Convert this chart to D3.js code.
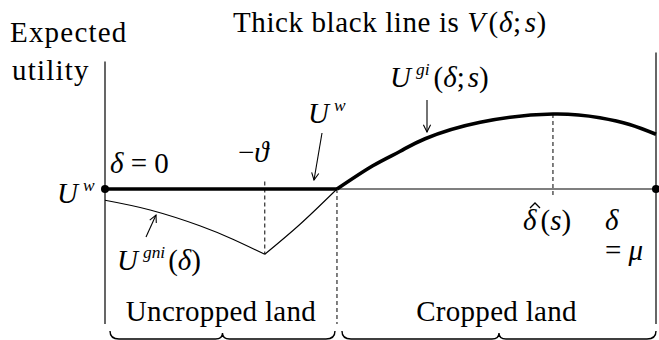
<!DOCTYPE html>
<html>
<head>
<meta charset="utf-8">
<script src="https://cdn.jsdelivr.net/npm/d3@7"></script>
<style>
  body { margin: 0; background: #fff; }
  svg text { font-family: "Liberation Serif", "Times New Roman", "DejaVu Serif", serif; }
</style>
</head>
<body>
<svg id="chart" width="659" height="340"></svg>
<script>
    // values (delta in units of mu, utility relative to U^w)
    const deltaGni = [0, 0.082, 0.172, 0.232, 0.29];
    const uGni     = [-0.15, -0.28, -0.49, -0.67, -0.87];
    const deltaRise = [0.29, 0.354, 0.421];
    const uRise     = [-0.87, -0.47, 0];
    const deltaGi = [0.421, 0.486, 0.535, 0.581, 0.681, 0.813, 0.898, 0.952, 1.0];
    const uGi     = [0, 0.31, 0.5, 0.67, 0.89, 1.0, 0.95, 0.86, 0.73];
    const uW = 0;
    const theta = 0.29, crossover = 0.421, deltaHat = 0.813, mu = 1;
    const axisTop = 1.7, axisBottom = -1.8;

    const svg = d3.select("#chart");
    const x = d3.scaleLinear().domain([0, mu]).range([105, 656]);
    const y = d3.scaleLinear().domain([0, 1]).range([189, 114]);

    const line = d3.line().x(d => x(d[0])).y(d => y(d[1]));
    const smooth = d3.line().x(d => x(d[0])).y(d => y(d[1])).curve(d3.curveNatural);

    svg.append("defs").append("marker")
        .attr("id", "arr").attr("viewBox", "0 0 10 10")
        .attr("refX", 9).attr("refY", 5)
        .attr("markerWidth", 9).attr("markerHeight", 9)
        .attr("markerUnits", "userSpaceOnUse")
        .attr("orient", "auto")
      .append("path").attr("d", "M1,1 L9,5 L1,9")
        .attr("fill", "none").attr("stroke", "#000").attr("stroke-width", 1.2);

    // axes
    svg.append("line").attr("x1", x(0)).attr("x2", x(0))
        .attr("y1", y(axisTop)).attr("y2", y(axisBottom))
        .attr("stroke", "#000").attr("stroke-width", 1.2);
    svg.append("line").attr("x1", x(mu)).attr("x2", x(mu))
        .attr("y1", y(1.82)).attr("y2", y(axisBottom))
        .attr("stroke", "#000").attr("stroke-width", 1.2);
    svg.append("line").attr("x1", x(0)).attr("x2", x(mu))
        .attr("y1", y(uW)).attr("y2", y(uW))
        .attr("stroke", "#000").attr("stroke-width", 1.2);

    // dashed guides
    const dash = [[theta, 0.1, uGni[4]], [crossover, uW, axisBottom], [deltaHat, uGi[5], -0.11]];
    svg.selectAll(".guide").data(dash).join("line")
        .attr("x1", d => x(d[0])).attr("x2", d => x(d[0]))
        .attr("y1", d => y(d[1])).attr("y2", d => y(d[2]))
        .attr("stroke", "#000").attr("stroke-width", 1).attr("stroke-dasharray", "4,3");

    // U^gni curve
    svg.append("path").attr("d", smooth(d3.zip(deltaGni, uGni)))
        .attr("fill", "none").attr("stroke", "#000").attr("stroke-width", 1.1);
    svg.append("path").attr("d", smooth(d3.zip(deltaRise, uRise)))
        .attr("fill", "none").attr("stroke", "#000").attr("stroke-width", 1.1);

    // V: thick line
    svg.append("path").attr("d", line([[0, uW], [crossover, uW]]))
        .attr("fill", "none").attr("stroke", "#000").attr("stroke-width", 3.6);
    svg.append("path").attr("d", smooth(d3.zip(deltaGi, uGi)))
        .attr("fill", "none").attr("stroke", "#000").attr("stroke-width", 3.6);

    svg.selectAll(".dot").data([0, mu]).join("circle")
        .attr("cx", d => x(d)).attr("cy", y(uW)).attr("r", 4).attr("fill", "#000");

    // arrows
    const arrows = [[322, 133, 314, 180], [427, 100, 427, 132], [146, 237, 156, 215]];
    svg.selectAll(".arrow").data(arrows).join("line")
        .attr("x1", d => d[0]).attr("y1", d => d[1]).attr("x2", d => d[2]).attr("y2", d => d[3])
        .attr("stroke", "#000").attr("stroke-width", 1.1).attr("marker-end", "url(#arr)");

    // text helper: parts = [text, italic?, sup?, dy, dx]
    function label(px, py, parts, size, anchor, spacing) {
        const t = svg.append("text").attr("x", px).attr("y", py)
            .style("font-family", "'Liberation Serif', 'DejaVu Serif', serif")
            .attr("font-size", size).attr("text-anchor", anchor || "start");
        if (spacing) t.attr("letter-spacing", spacing);
        parts.forEach(p => {
            const s = t.append("tspan").text(p[0]);
            if (p[1]) s.attr("font-style", "italic");
            if (p[2]) s.attr("font-size", size * 0.6).attr("dy", -size * 0.42);
            if (p[3]) s.attr("dy", p[3]);
            if (p[4]) s.attr("dx", p[4]);
        });
        return t;
    }

    const fs = 29;
    label(10, 42, [["Expected"]], fs, "start", 1.2);
    label(12, 80, [["utility"]], fs, "start", 1.2);
    label(233, 32, [["Thick black line is "], ["V", true], ["(", false, false, 0, 3], ["δ", true], [";"], ["s", true, false, 0, 3], [")"]], fs, "start", 0.6);

    label(57, 203, [["U", true], ["w", true, true, 0, 5]], fs);
    label(110, 173, [["δ", true], [" = 0"]], fs);
    label(238, 162, [["−"], ["ϑ", true]], fs);
    label(308, 123, [["U", true], ["w", true, true, 0, 5]], fs);
    label(390, 87, [["U", true], ["gi", true, true, 0, 5], ["(", false, false, fs * 0.42, 4], ["δ", true], [";"], ["s", true, false, 0, 3], [")"]], fs);
    label(117, 270, [["U", true], ["gni", true, true, 0, 5], ["(", false, false, fs * 0.42, 3], ["δ", true], [")"]], fs);
    label(523, 230, [["δ", true], ["(", false, false, 0, 4], ["s", true], [")"]], fs);
    label(605, 230, [["δ", true]], fs);
    label(605, 260, [["= "], ["μ", true]], fs);

    // hat over delta-hat
    svg.append("path").attr("d", "M530,208 L535,203 L540,208")
        .attr("fill", "none").attr("stroke", "#000").attr("stroke-width", 1.3);

    label((x(0) + x(crossover)) / 2, 321, [["Uncropped land"]], fs, "middle", 0.3);
    label((x(crossover) + x(mu)) / 2, 321, [["Cropped land"]], fs, "middle", 0.3);

    // braces under the two regions
    function brace(x0, x1) {
        const xm = (x0 + x1) / 2, b = 339, t = 331;
        return `M${x0},${t} Q${x0},${b} ${x0 + 9},${b} L${xm - 7},${b} Q${xm},${b} ${xm},${t + 2}` +
               ` Q${xm},${b} ${xm + 7},${b} L${x1 - 9},${b} Q${x1},${b} ${x1},${t}`;
    }
    svg.selectAll(".brace").data([[x(0) + 5, x(crossover) - 2], [x(crossover) + 5, x(mu)]]).join("path")
        .attr("d", d => brace(d[0], d[1]))
        .attr("fill", "none").attr("stroke", "#000").attr("stroke-width", 1.4);
</script>
</body>
</html>
